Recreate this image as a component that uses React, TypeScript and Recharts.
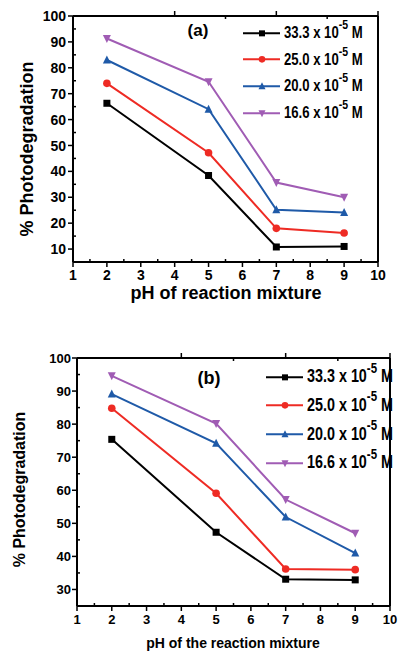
import { LineChart, Line, XAxis, YAxis, Legend } from "recharts"

const FONT = "'Liberation Sans', Arial, Helvetica, sans-serif"

// pH of the reaction mixture
const phValues = [2, 5, 7, 9]

// dye concentration (x 10^-5 M) for each series
const concLabels = ["33.3", "25.0", "20.0", "16.6"]
const seriesColors = ["#000000", "#EE2B24", "#1F5AA8", "#A05CB4"]
const markerShapes = ["square", "circle", "triangle", "triangleDown"]

// panel (a): % photodegradation
const degA333 = [66.3, 38.4, 10.8, 11.0]
const degA250 = [74.0, 47.2, 18.0, 16.2]
const degA200 = [83.0, 64.0, 25.2, 24.1]
const degA166 = [91.3, 74.6, 35.7, 30.0]

// panel (b): % photodegradation
const degB333 = [75.4, 47.3, 33.1, 32.9]
const degB250 = [84.8, 59.1, 36.2, 36.0]
const degB200 = [89.1, 74.2, 51.9, 41.0]
const degB166 = [94.6, 80.2, 57.2, 47.0]

// major + minor ticks
const xTicks = [1, 1.5, 2, 2.5, 3, 3.5, 4, 4.5, 5, 5.5, 6, 6.5, 7, 7.5, 8, 8.5, 9, 9.5, 10]
const yTicksA = [10, 15, 20, 25, 30, 35, 40, 45, 50, 55, 60, 65, 70, 75, 80, 85, 90, 95, 100]
const yTicksB = [30, 35, 40, 45, 50, 55, 60, 65, 70, 75, 80, 85, 90, 95, 100]

const buildRows = (series: number[][]) =>
  phValues.map((ph, i) => {
    const row: Record<string, number> = { ph }
    series.forEach((s, k) => (row[`s${k}`] = s[i]))
    return row
  })

const dataA = buildRows([degA333, degA250, degA200, degA166])
const dataB = buildRows([degB333, degB250, degB200, degB166])

function Marker({ shape, cx, cy, color, size }: any) {
  if (cx == null || cy == null) return null
  const h = size / 2
  if (shape === "square") return <rect x={cx - h} y={cy - h} width={size} height={size} fill={color} />
  if (shape === "circle") return <circle cx={cx} cy={cy} r={h + 0.3} fill={color} />
  if (shape === "triangle")
    return <polygon points={`${cx},${cy - h - 1} ${cx - h - 0.5},${cy + h} ${cx + h + 0.5},${cy + h}`} fill={color} />
  return <polygon points={`${cx},${cy + h + 1} ${cx - h - 0.5},${cy - h} ${cx + h + 0.5},${cy - h}`} fill={color} />
}

// tick marks: majors point outward, minors inward; labels on bottom/left only
function drawTick(tp: any, side: string, fs = 0, gp = 0) {
  const { x, y, payload } = tp
  const v = payload.value
  const major = side === "bottom" || side === "top" ? Number.isInteger(v) : v % 10 === 0
  const out = major ? 5 : 0
  const inn = major ? 0 : 3
  if (side === "left")
    return (
      <g>
        <line x1={x - out} y1={y} x2={x + inn} y2={y} stroke="#000" strokeWidth={1.5} />
        {major && (
          <text
            x={x - gp}
            y={y + fs * 0.36}
            textAnchor="end"
            fontFamily={FONT}
            fontWeight="bold"
            fontSize={fs}
            fill="#000"
          >
            {v}
          </text>
        )}
      </g>
    )
  if (side === "right")
    return (
      <g>
        <line x1={x - inn} y1={y} x2={x + out} y2={y} stroke="#000" strokeWidth={1.5} />
      </g>
    )
  if (side === "top")
    return (
      <g>
        <line x1={x} y1={y - out} x2={x} y2={y + inn} stroke="#000" strokeWidth={1.5} />
      </g>
    )
  return (
    <g>
      <line x1={x} y1={y - inn} x2={x} y2={y + out} stroke="#000" strokeWidth={1.5} />
      {major && (
        <text x={x} y={y + gp} textAnchor="middle" fontFamily={FONT} fontWeight="bold" fontSize={fs} fill="#000">
          {v}
        </text>
      )}
    </g>
  )
}

function LegendRows({ rowHeight, fontSize }: { rowHeight: number; fontSize: number }) {
  return (
    <div>
      {concLabels.map((c, k) => (
        <div key={c} style={{ display: "flex", alignItems: "center", height: rowHeight }}>
          <svg width={38} height={rowHeight} style={{ display: "block" }}>
            <line x1={0} y1={rowHeight / 2} x2={37} y2={rowHeight / 2} stroke={seriesColors[k]} strokeWidth={2} />
            <Marker shape={markerShapes[k]} cx={19} cy={rowHeight / 2} color={seriesColors[k]} size={6} />
          </svg>
          <span
            style={{
              display: "inline-block",
              marginLeft: 3,
              fontFamily: FONT,
              fontWeight: 700,
              fontSize,
              whiteSpace: "nowrap",
              transform: "scaleX(0.82)",
              transformOrigin: "left center",
              lineHeight: 1,
            }}
          >
            {c} x 10
            <span style={{ fontSize: fontSize * 0.8, position: "relative", top: -fontSize * 0.55 }}>-5</span> M
          </span>
        </div>
      ))}
    </div>
  )
}

interface PanelProps {
  data: Record<string, number>[]
  height: number
  margin: { top: number; right: number; bottom: number; left: number }
  yDomain: [number, number]
  yTicks: number[]
  xTickFont: number
  yTickFont: number
  xTickGap: number
  yTickGap: number
  legendTop: number
  legendLeft: number
  legendRow: number
  legendFont: number
  tag: string
  tagX: number
  tagY: number
  tagFont: number
  xTitle: string
  xTitleX: number
  xTitleY: number
  xTitleFont: number
  yTitleX: number
  yTitleY: number
  yTitleFont: number
}

function Panel(p: PanelProps) {
  const titleStyle = { fontFamily: FONT, fontWeight: 700, fill: "#000" }
  const frame = { stroke: "#000", strokeWidth: 2 }
  return (
    <LineChart width={399} height={p.height} data={p.data} margin={p.margin}>
      <XAxis
        xAxisId="b"
        dataKey="ph"
        type="number"
        domain={[1, 10]}
        ticks={xTicks}
        interval={0}
        height={1}
        tickSize={0}
        tickMargin={0}
        tickLine={false}
        axisLine={frame}
        tick={(tp: any) => drawTick(tp, "bottom", p.xTickFont, p.xTickGap)}
      />
      <XAxis
        xAxisId="t"
        orientation="top"
        type="number"
        domain={[1, 10]}
        ticks={xTicks}
        interval={0}
        height={1}
        tickSize={0}
        tickMargin={0}
        tickLine={false}
        axisLine={frame}
        tick={(tp: any) => drawTick(tp, "top")}
      />
      <YAxis
        yAxisId="l"
        type="number"
        domain={p.yDomain}
        ticks={p.yTicks}
        interval={0}
        width={1}
        tickSize={0}
        tickMargin={0}
        tickLine={false}
        axisLine={frame}
        tick={(tp: any) => drawTick(tp, "left", p.yTickFont, p.yTickGap)}
      />
      <YAxis
        yAxisId="r"
        orientation="right"
        type="number"
        domain={p.yDomain}
        ticks={p.yTicks}
        interval={0}
        width={1}
        tickSize={0}
        tickMargin={0}
        tickLine={false}
        axisLine={frame}
        tick={(tp: any) => drawTick(tp, "right")}
      />
      {concLabels.map((c, k) => (
        <Line
          key={c}
          xAxisId="b"
          yAxisId="l"
          type="linear"
          dataKey={`s${k}`}
          name={`${c} x 10-5 M`}
          stroke={seriesColors[k]}
          strokeWidth={2}
          isAnimationActive={false}
          dot={(d: any) => (
            <Marker key={`${c}-${d.index}`} shape={markerShapes[k]} cx={d.cx} cy={d.cy} color={seriesColors[k]} size={7} />
          )}
          activeDot={false}
        />
      ))}
      <Legend
        layout="vertical"
        align="center"
        verticalAlign="middle"
        wrapperStyle={{ top: p.legendTop, left: p.legendLeft, width: "auto" }}
        content={() => <LegendRows rowHeight={p.legendRow} fontSize={p.legendFont} />}
      />
      <text x={p.tagX} y={p.tagY} textAnchor="middle" style={{ ...titleStyle, fontSize: p.tagFont }}>
        {p.tag}
      </text>
      <text x={p.xTitleX} y={p.xTitleY} textAnchor="middle" style={{ ...titleStyle, fontSize: p.xTitleFont }}>
        {p.xTitle}
      </text>
      <text
        x={p.yTitleX}
        y={p.yTitleY}
        dy="0.35em"
        textAnchor="middle"
        transform={`rotate(-90 ${p.yTitleX} ${p.yTitleY})`}
        style={{ ...titleStyle, fontSize: p.yTitleFont }}
      >
        % Photodegradation
      </text>
    </LineChart>
  )
}

export default function App() {
  return (
    <div style={{ position: "absolute", left: 0, top: 0, width: 399, height: 655, background: "#fff" }}>
      <Panel
        data={dataA}
        height={320}
        margin={{ top: 15, right: 20, bottom: 57, left: 72 }}
        yDomain={[5, 100]}
        yTicks={yTicksA}
        xTickFont={14}
        yTickFont={14}
        xTickGap={18}
        yTickGap={7}
        legendTop={19.5}
        legendLeft={243}
        legendRow={26.7}
        legendFont={16}
        tag="(a)"
        tagX={198}
        tagY={36}
        tagFont={17}
        xTitle="pH of reaction mixture"
        xTitleX={226}
        xTitleY={299}
        xTitleFont={18}
        yTitleX={27}
        yTitleY={149}
        yTitleFont={18}
      />
      <div style={{ position: "absolute", left: 0, top: 320 }}>
        <Panel
          data={dataB}
          height={335}
          margin={{ top: 37, right: 8, bottom: 48, left: 76 }}
          yDomain={[25, 100]}
          yTicks={yTicksB}
          xTickFont={13}
          yTickFont={13}
          xTickGap={17.5}
          yTickGap={6}
          legendTop={42.6}
          legendLeft={266}
          legendRow={28.7}
          legendFont={17.5}
          tag="(b)"
          tagX={209}
          tagY={64}
          tagFont={18}
          xTitle="pH of the reaction mixture"
          xTitleX={233}
          xTitleY={328}
          xTitleFont={14}
          yTitleX={19}
          yTitleY={169.5}
          yTitleFont={16}
        />
      </div>
    </div>
  )
}
